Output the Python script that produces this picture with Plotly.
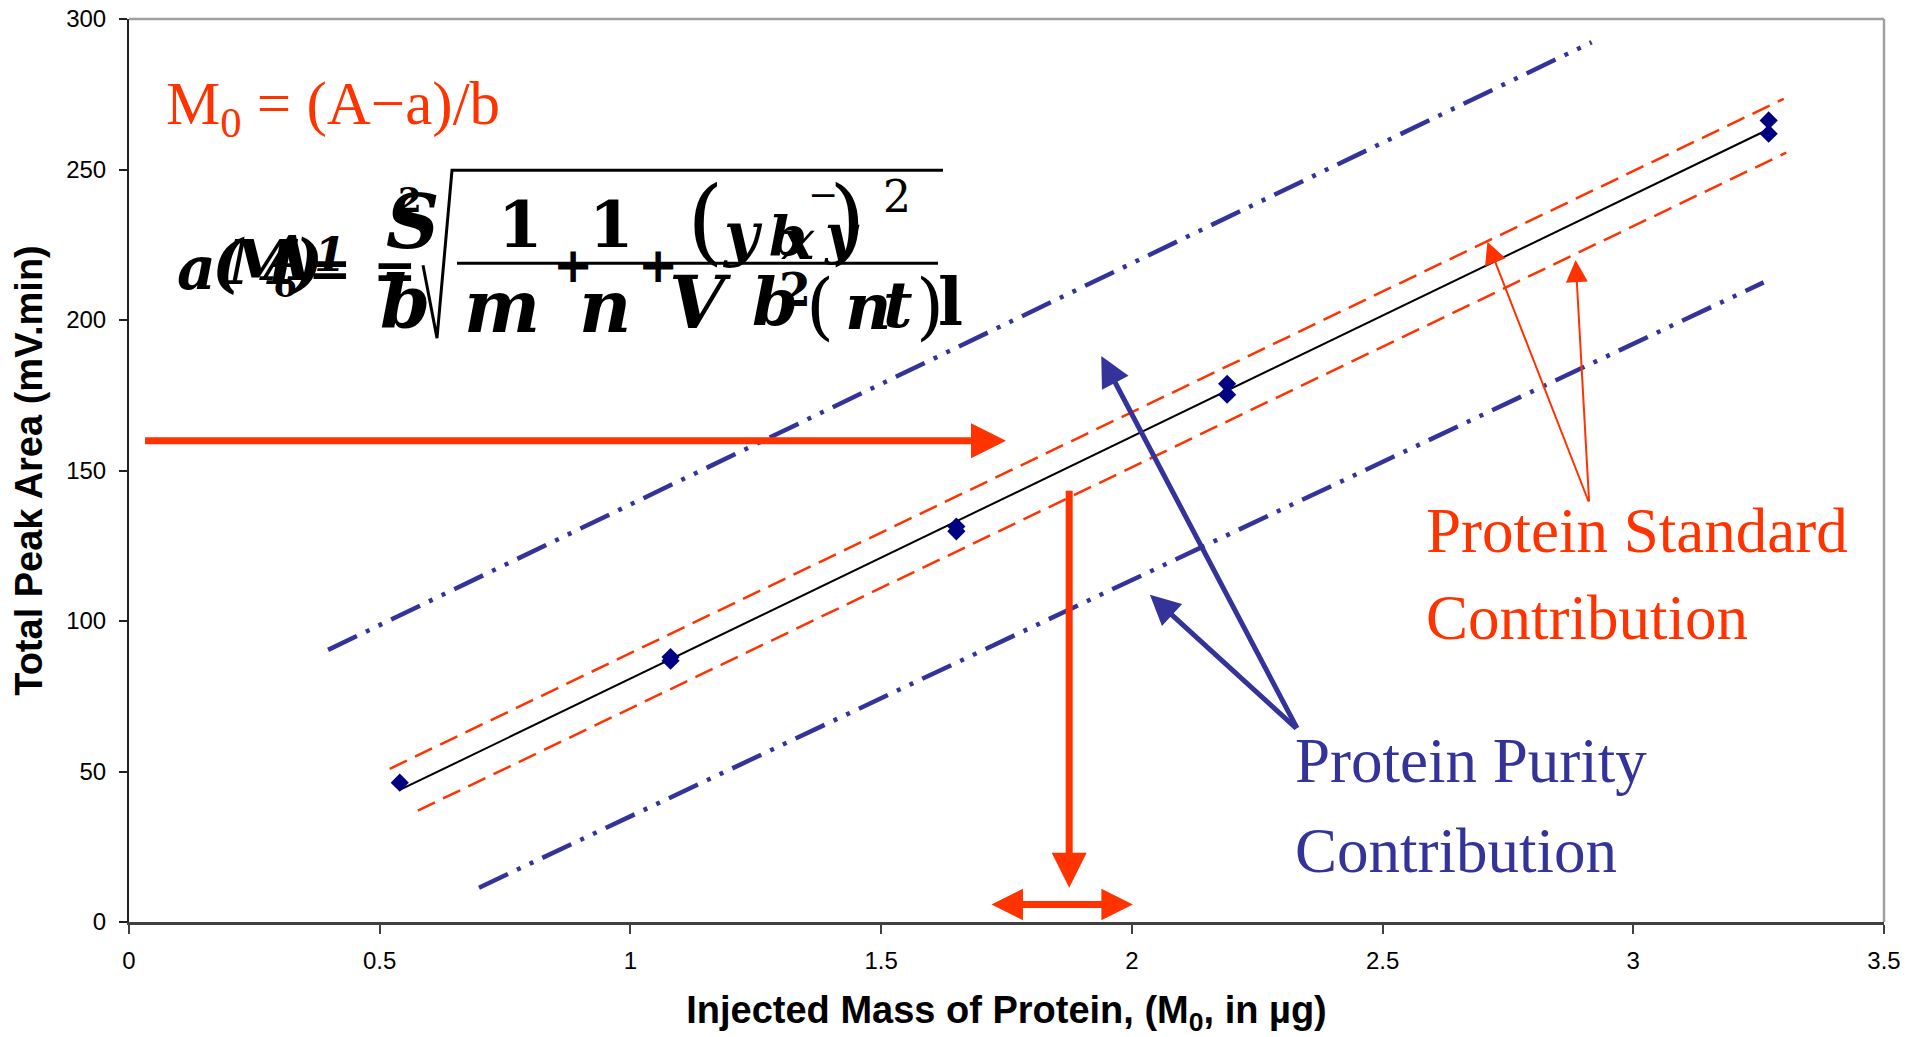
import numpy as np
import plotly.graph_objects as go

# ---------------- data ----------------
mass_ug = [0.54, 1.08, 1.08, 1.65, 1.65, 2.19, 2.19, 3.27, 3.27]
peak_area = [46.3, 88.0, 86.8, 131.4, 129.8, 178.8, 175.2, 266.3, 261.9]

# Protein standard contribution (orange dashed band)
std_upper_x = [0.52, 3.30]
std_upper_y = [50.9, 273.5]
std_lower_x = [0.576, 3.305]
std_lower_y = [37.0, 255.6]

# Protein purity contribution (blue dash-dot-dot band)
pur_upper_x = [0.397, 2.917]
pur_upper_y = [90.4, 292.3]
pur_lower_x = [0.698, 3.26]
pur_lower_y = [11.4, 212.5]

# arrows (head x, head y, tail x, tail y)
arrow_read_area = (1.749, 159.9, 0.029, 159.9)
arrow_read_mass = (1.875, 11.4, 1.875, 143.8)
arrow_mass_range = (1.717, 2.002, 5.8)
arrows_purity = [(1.939, 188.0, 2.331, 63.9), (2.036, 108.7, 2.331, 63.9)]
arrows_standard = [(2.709, 226.0, 2.912, 139.2), (2.885, 219.9, 2.912, 139.2)]

x_ticks = [0, 0.5, 1, 1.5, 2, 2.5, 3, 3.5]
x_tick_text = ["0", "0.5", "1", "1.5", "2", "2.5", "3", "3.5"]
y_ticks = [0, 50, 100, 150, 200, 250, 300]

ORANGE = "#FF3300"
BLUE = "#333399"
NAVY = "#000080"

# page body has an 8px margin; figure is sized so it fits the window
OFF = 8
W, H = 1916, 1029
# plot area in screen pixels
SX0, SX1, SY0, SY1 = 129, 1884, 18.5, 922.5
L = SX0 - OFF
R = W + OFF - SX1
T = SY0 - OFF
B = H + OFF - SY1


def px2paper(px, py):
    return (px - SX0) / (SX1 - SX0), (SY1 - py) / (SY1 - SY0)


# regression line from the data
b, a = np.polyfit(mass_ug, peak_area, 1)
fit_x = [min(mass_ug), max(mass_ug)]
fit_y = [a + b * v for v in fit_x]

fig = go.Figure()

blue_dash = "32px,10px,4px,10px,4px,10px"
fig.add_trace(go.Scatter(x=pur_upper_x, y=pur_upper_y, mode="lines",
                         line=dict(color=BLUE, width=4.5, dash=blue_dash), showlegend=False))
fig.add_trace(go.Scatter(x=pur_lower_x, y=pur_lower_y, mode="lines",
                         line=dict(color=BLUE, width=4.5, dash=blue_dash), showlegend=False))
fig.add_trace(go.Scatter(x=std_upper_x, y=std_upper_y, mode="lines",
                         line=dict(color=ORANGE, width=2.5, dash="19px,9px"), showlegend=False))
fig.add_trace(go.Scatter(x=std_lower_x, y=std_lower_y, mode="lines",
                         line=dict(color=ORANGE, width=2.5, dash="19px,9px"), showlegend=False))
fig.add_trace(go.Scatter(x=fit_x, y=fit_y, mode="lines",
                         line=dict(color="black", width=2), showlegend=False))
fig.add_trace(go.Scatter(x=mass_ug, y=peak_area, mode="markers",
                         marker=dict(symbol="diamond", color=NAVY, size=14), showlegend=False))

ann = []
# orange arrows
hx, hy, tx, ty = arrow_read_area
ann.append(dict(x=hx, y=hy, ax=tx, ay=ty, xref="x", yref="y", axref="x", ayref="y",
                showarrow=True, arrowhead=2, arrowsize=1.0, arrowwidth=7, arrowcolor=ORANGE, text=""))
hx, hy, tx, ty = arrow_read_mass
ann.append(dict(x=hx, y=hy, ax=tx, ay=ty, xref="x", yref="y", axref="x", ayref="y",
                showarrow=True, arrowhead=2, arrowsize=1.0, arrowwidth=7, arrowcolor=ORANGE, text=""))
x0, x1, yy = arrow_mass_range
ann.append(dict(x=x1, y=yy, ax=x0, ay=yy, xref="x", yref="y", axref="x", ayref="y",
                showarrow=True, arrowhead=2, startarrowhead=2, arrowside="end+start",
                arrowsize=0.9, startarrowsize=0.9, arrowwidth=7, arrowcolor=ORANGE, text=""))
for hx, hy, tx, ty in arrows_purity:
    ann.append(dict(x=hx, y=hy, ax=tx, ay=ty, xref="x", yref="y", axref="x", ayref="y",
                    showarrow=True, arrowhead=2, arrowsize=1.2, arrowwidth=5, arrowcolor=BLUE, text=""))
for hx, hy, tx, ty in arrows_standard:
    ann.append(dict(x=hx, y=hy, ax=tx, ay=ty, xref="x", yref="y", axref="x", ayref="y",
                    showarrow=True, arrowhead=2, arrowsize=2.2, arrowwidth=2, arrowcolor=ORANGE, text=""))


def text_px(txt, px, py, size, color, family="Liberation Serif", xanchor="left", yanchor="middle"):
    x, y = px2paper(px, py)
    ann.append(dict(x=x, y=y, xref="paper", yref="paper", text=txt, showarrow=False,
                    xanchor=xanchor, yanchor=yanchor, font=dict(family=family, size=size, color=color)))


text_px("M<sub>0</sub> = (A−a)/b", 164, 108, 61, ORANGE)
text_px("Protein Standard", 1424, 531, 63, ORANGE)
text_px("Contribution", 1424, 618, 63, ORANGE)
text_px("Protein Purity", 1293, 761, 63, BLUE)
text_px("Contribution", 1293, 851, 63, BLUE)

# garbled equation rendering (overlapping glyphs, as in the original picture)
FF = "DejaVu Serif"
formula_glyphs = [
    ("a", 196, 268, 60, "bi"), ("(", 228, 262, 64, "bi"), ("M", 262, 262, 62, "bi"),
    ("A", 285, 258, 62, "bi"), (")", 306, 262, 64, "bi"), ("o", 285, 285, 34, "b"),
    ("1", 330, 255, 46, "bi"), ("=", 330, 268, 52, "b"), ("=", 395, 270, 52, "b"),
    ("S", 412, 222, 74, "bi"), ("2", 410, 200, 34, "b"),
    ("1", 520, 224, 64, "b"), ("1", 611, 224, 64, "b"),
    ("+", 573, 265, 48, "b"), ("+", 658, 265, 48, "b"),
    ("(", 705, 220, 94, "r"), (")", 847, 220, 94, "r"),
    ("y", 742, 234, 60, "bi"), ("b", 788, 236, 54, "bi"), ("x", 798, 240, 54, "bi"),
    ("y", 842, 234, 54, "bi"), ("−", 823, 194, 36, "r"), ("2", 897, 196, 44, "r"),
    ("b", 405, 302, 72, "bi"), ("m", 502, 306, 72, "bi"), ("n", 605, 306, 72, "bi"),
    ("V", 700, 302, 72, "bi"), ("b", 775, 302, 66, "bi"), ("2", 795, 290, 46, "b"),
    ("(", 820, 306, 72, "r"), ("n", 868, 306, 64, "bi"), ("t", 898, 304, 64, "bi"),
    (")", 930, 306, 72, "r"), ("l", 950, 302, 66, "b"),
]
for g, px, py, size, st in formula_glyphs:
    x, y = px2paper(px, py)
    t = g
    if "b" in st:
        t = "<b>" + t + "</b>"
    if "i" in st:
        t = "<i>" + t + "</i>"
    ann.append(dict(x=x, y=y, xref="paper", yref="paper", text=t, showarrow=False,
                    xanchor="center", yanchor="middle",
                    font=dict(family=FF, size=size, color="black")))

shapes = []
# radical sign and fraction bar of the garbled equation
rx = [423, 437, 452, 943]
ry = [265, 338, 170, 170]
pts = [px2paper(u, v) for u, v in zip(rx, ry)]
path = "M " + " L ".join(f"{p[0]},{p[1]}" for p in pts)
shapes.append(dict(type="path", path=path, xref="paper", yref="paper",
                   line=dict(color="black", width=3)))
f0 = px2paper(457, 263)
f1 = px2paper(938, 263)
shapes.append(dict(type="line", x0=f0[0], y0=f0[1], x1=f1[0], y1=f1[1], xref="paper", yref="paper",
                   line=dict(color="black", width=3)))
# plot frame (top / right in gray)
shapes.append(dict(type="line", x0=0, y0=1, x1=1, y1=1, xref="paper", yref="paper",
                   line=dict(color="#A0A0A0", width=2.5)))
shapes.append(dict(type="line", x0=1, y0=0, x1=1, y1=1, xref="paper", yref="paper",
                   line=dict(color="#A0A0A0", width=2.5)))

fig.update_layout(
    width=W, height=H,
    margin=dict(l=L, r=R, t=T, b=B, autoexpand=False),
    paper_bgcolor="white", plot_bgcolor="white",
    annotations=ann, shapes=shapes,
    xaxis=dict(range=[0, 3.5], tickvals=x_ticks, ticktext=x_tick_text,
               showgrid=False, zeroline=False, showline=True, linecolor="#404040", linewidth=3,
               ticks="outside", ticklen=9, tickcolor="#404040", tickwidth=1.5,
               ticklabelstandoff=6, ticklabeloverflow="allow",
               tickfont=dict(family="Liberation Sans", size=24, color="black"),
               title=dict(text="<b>Injected Mass of Protein, (M<sub>0</sub>, in µg)</b>",
                          font=dict(family="Liberation Sans", size=38, color="black"), standoff=28),
               automargin=False),
    yaxis=dict(range=[0, 300], tickvals=y_ticks,
               showgrid=False, zeroline=False, showline=True, linecolor="#202020", linewidth=2,
               ticks="outside", ticklen=8, tickcolor="#202020", tickwidth=1.5,
               ticklabelstandoff=8, ticklabeloverflow="allow",
               tickfont=dict(family="Liberation Sans", size=24, color="black"),
               title=dict(text="<b>Total Peak Area (mV.min)</b>",
                          font=dict(family="Liberation Sans", size=38, color="black"), standoff=20),
               automargin=False),
)

fig.write_html("out.html")
